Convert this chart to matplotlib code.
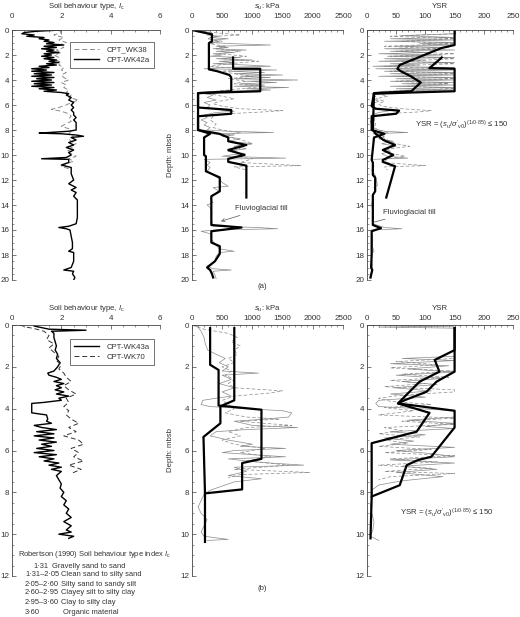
import numpy as np
import matplotlib
matplotlib.use("Agg")
import matplotlib.pyplot as plt
from matplotlib.ticker import MultipleLocator

plt.rcParams['font.family'] = ['Liberation Sans', 'DejaVu Sans']
plt.rcParams['mathtext.fontset'] = 'custom'
plt.rcParams['mathtext.rm'] = 'Liberation Sans'
plt.rcParams['mathtext.it'] = 'Liberation Sans:italic'

TXT = '#333333'

# ---------------- data: (depth m, value) ----------------
# (a) Ic
ic_wk42a = [(0.0,2.0),(0.1,1.0),(0.2,0.5),(0.3,0.4),(0.4,0.9),(0.5,0.6),(0.6,1.3),(0.7,1.1),(0.8,1.5),(0.9,1.3),(1.0,1.7),(1.1,1.4),(1.2,2.1),(1.3,1.3),(1.4,1.8),(1.5,1.2),(1.6,1.7),(1.7,1.4),(1.8,1.9),(1.9,1.3),(2.0,1.6),(2.1,1.2),(2.2,1.7),(2.3,1.3),(2.4,1.8),(2.5,1.5),(2.6,1.9),(2.7,1.4),(2.8,1.8),(2.9,1.1),(3.0,1.5),(3.1,0.8),(3.2,1.4),(3.3,0.8),(3.4,1.7),(3.5,0.9),(3.6,1.6),(3.7,0.8),(3.8,1.7),(3.9,1.0),(4.0,1.6),(4.1,0.8),(4.2,1.7),(4.3,0.9),(4.4,1.6),(4.5,0.8),(4.6,1.7),(4.7,1.1),(4.8,1.8),(4.9,1.3),(5.0,2.0),(5.1,2.3),(5.2,2.2),(5.4,2.4),(5.6,2.3),(5.8,2.5),(6.0,2.4),(6.2,2.5),(6.4,2.4),(6.6,2.5),(6.8,2.5),(7.0,2.6),(7.2,2.5),(7.4,2.6),(7.6,2.6),(7.8,2.6),(8.0,2.6),(8.1,2.3),(8.2,1.5),(8.25,1.1),(8.3,2.0),(8.4,2.6),(8.5,2.9),(8.6,2.4),(8.8,2.6),(9.0,2.3),(9.2,2.5),(9.4,2.2),(9.6,2.5),(9.8,2.3),(10.0,2.4),(10.2,2.2),(10.3,1.2),(10.35,2.3),(10.6,2.3),(10.8,2.0),(11.0,2.4),(11.5,2.4),(12.0,2.5),(12.3,2.3),(12.6,2.6),(12.8,2.4),(13.0,2.6),(13.3,2.5),(13.6,2.65),(14.0,2.65),(14.5,2.65),(15.0,2.65),(15.5,2.6),(15.7,2.3),(15.8,1.9),(15.9,2.2),(16.0,2.35),(16.5,2.4),(17.0,2.45),(17.5,2.45),(17.7,2.3),(17.8,2.5),(18.0,2.5),(18.5,2.5),(19.0,2.4),(19.2,2.1),(19.3,2.5),(19.5,2.45),(19.8,2.55),(20.0,2.5)]
ic_wk38 = [(0.0,1.9),(0.2,2.0),(0.4,1.7),(0.6,2.1),(0.8,1.9),(1.0,2.2),(1.2,1.9),(1.4,2.1),(1.6,1.8),(1.8,2.0),(2.0,1.7),(2.2,1.9),(2.4,1.8),(2.6,2.0),(2.8,1.9),(3.0,2.1),(3.2,2.0),(3.4,2.2),(3.6,2.0),(3.8,2.1),(4.0,2.3),(4.2,2.0),(4.4,2.2),(4.6,2.1),(4.8,2.3),(5.0,2.2),(5.2,2.4),(5.4,2.3),(5.6,2.7),(5.8,2.4),(6.0,2.2),(6.2,1.9),(6.35,1.6),(6.5,2.0),(6.7,2.3),(6.9,2.4),(7.1,2.3),(7.3,2.4),(7.5,2.2),(7.7,2.0),(7.9,2.3),(8.1,2.4),(8.3,2.3),(8.5,2.5),(8.7,2.3),(8.9,2.4),(9.1,2.6),(9.3,2.3),(9.5,2.5),(9.7,2.2),(9.9,2.4),(10.1,2.6),(10.3,2.3),(10.5,2.5),(10.7,2.2),(10.9,2.0),(11.1,2.3)]

# (a) su kPa
su_wk42a = [(0.0,0),(0.1,150),(0.2,300),(0.3,350),(0.4,250),(0.5,450),(0.6,300),(0.7,600),(0.8,350),(0.9,450),(1.0,300),(1.1,700),(1.2,1300),(1.3,400),(1.4,600),(1.5,350),(1.6,900),(1.7,400),(1.8,700),(1.9,350),(2.0,500),(2.1,300),(2.2,800),(2.3,400),(2.4,1000),(2.5,450),(2.6,700),(2.7,350),(2.8,900),(2.9,1300),(3.0,500),(3.1,200),(3.2,1400),(3.3,600),(3.4,1200),(3.5,700),(3.6,1500),(3.7,800),(3.8,1300),(3.9,700),(4.0,1750),(4.1,900),(4.2,1400),(4.3,800),(4.4,1200),(4.5,700),(4.6,1600),(4.7,900),(4.8,1300),(4.9,600),(5.0,300),(5.1,200),(5.2,350),(5.4,250),(5.6,400),(5.8,200),(6.0,300),(6.2,250),(6.4,500),(6.5,700),(6.6,400),(6.8,200),(7.0,250),(7.2,150),(7.4,250),(7.6,200),(7.8,300),(8.0,250),(8.1,600),(8.2,1350),(8.3,300),(8.4,700),(8.5,500),(8.7,800),(8.9,600),(9.1,1000),(9.3,700),(9.5,900),(9.7,600),(9.9,800),(10.1,500),(10.25,1550),(10.35,200),(10.6,300),(10.8,250),(11.0,300),(11.3,250),(11.6,350),(11.9,450),(12.2,500),(12.5,600),(12.6,350),(12.9,450),(13.2,350),(13.5,300),(13.8,350),(14.0,250),(14.2,300),(14.6,330),(15.0,320),(15.4,330),(15.7,350),(15.8,1100),(15.9,1420),(16.0,400),(16.1,150),(16.3,300),(16.8,330),(17.2,400),(17.5,450),(17.7,700),(17.8,450),(18.1,400),(18.5,380),(18.9,250),(19.1,350),(19.2,650),(19.3,350),(19.6,380),(19.9,400)]
su_wk38 = [(0.0,0),(0.2,350),(0.4,800),(0.5,400),(0.7,250),(0.9,500),(1.1,300),(1.3,550),(1.5,400),(1.7,800),(1.9,450),(2.1,900),(2.3,500),(2.5,1100),(2.7,600),(2.9,300),(3.1,800),(3.3,500),(3.5,700),(3.7,1000),(3.9,600),(4.1,900),(4.3,700),(4.5,1200),(4.7,800),(4.9,400),(5.1,300),(5.3,500),(5.5,700),(5.7,450),(5.9,350),(6.1,500),(6.3,800),(6.45,1500),(6.55,1200),(6.7,600),(6.9,350),(7.2,300),(7.5,400),(7.8,350),(8.0,500),(8.2,800),(8.4,600),(8.7,700),(8.9,900),(9.1,1000),(9.3,700),(9.5,800),(9.7,600),(9.9,900),(10.1,700),(10.3,1000),(10.6,800),(10.85,1800),(10.95,700),(11.2,900)]
su_design1_a = [(0.0,0),(0.35,330),(0.9,330),(1.05,280),(3.15,280),(3.3,420),(3.6,620),(3.8,650),(4.9,650),(5.05,100),(6.2,100),(6.4,650),(6.7,650),(6.9,100),(8.0,100),(8.3,300),(8.6,200),(10.0,200),(10.1,230),(11.3,230),(11.8,460),(12.9,460),(13.3,320),(15.6,320),(15.8,820),(16.1,320),(17.0,320),(17.3,460),(17.9,460),(18.5,380),(19.0,250),(19.2,300),(19.5,330),(19.8,350)]
su_design2_a = [(2.2,680),(3.1,680),(3.1,1130),(4.9,1130),(5.05,100),(8.0,100),(8.3,450),(8.6,600),(8.9,600),(9.2,900),(9.6,600),(10.0,870),(10.3,600),(10.55,600),(10.85,900),(13.4,900)]

# (a) YSR
ysr_wk42a = [(0.0,5),(0.05,150),(0.3,150),(0.45,60),(0.6,150),(0.7,40),(0.8,150),(0.9,30),(1.0,150),(1.1,90),(1.2,150),(1.3,50),(1.4,140),(1.5,30),(1.6,150),(1.7,40),(1.8,110),(1.9,20),(2.0,130),(2.1,35),(2.2,150),(2.3,30),(2.4,100),(2.5,20),(2.6,150),(2.7,40),(2.8,90),(2.9,10),(3.0,150),(3.1,15),(3.2,150),(3.3,30),(3.4,150),(3.5,40),(3.6,150),(3.7,20),(3.8,150),(3.9,50),(4.0,150),(4.1,40),(4.2,150),(4.3,60),(4.4,150),(4.5,40),(4.6,150),(4.7,50),(4.8,150),(4.9,30),(5.0,15),(5.1,8),(5.3,15),(5.5,10),(5.7,20),(5.9,8),(6.1,12),(6.3,15),(6.45,40),(6.6,20),(6.8,8),(7.0,10),(7.3,6),(7.6,8),(7.9,12),(8.1,30),(8.2,70),(8.3,10),(8.5,30),(8.7,20),(8.9,45),(9.1,25),(9.3,50),(9.5,30),(9.7,40),(9.9,25),(10.1,35),(10.25,70),(10.35,8),(10.6,10),(10.9,12),(11.2,8),(11.6,14),(12.0,16),(12.4,18),(12.6,12),(12.9,14),(13.3,10),(13.7,9),(14.0,8),(14.5,10),(15.0,9),(15.5,10),(15.8,30),(15.9,60),(16.0,8),(16.3,8),(16.8,10),(17.3,9),(17.7,12),(17.9,8),(18.3,8),(18.8,9),(19.2,10),(19.4,7),(19.8,8)]
ysr_wk38 = [(0.0,150),(0.3,150),(0.5,40),(0.7,150),(0.9,60),(1.1,150),(1.3,30),(1.5,120),(1.7,50),(1.9,150),(2.1,40),(2.3,150),(2.5,60),(2.7,150),(2.9,30),(3.1,120),(3.3,40),(3.5,150),(3.7,60),(3.9,150),(4.1,50),(4.3,140),(4.5,70),(4.7,150),(4.9,40),(5.1,20),(5.3,35),(5.5,15),(5.7,30),(5.9,20),(6.1,25),(6.3,60),(6.45,110),(6.55,90),(6.7,30),(6.9,15),(7.2,12),(7.5,15),(7.8,12),(8.0,20),(8.2,35),(8.4,25),(8.7,30),(8.9,40),(9.1,50),(9.3,73),(9.5,40),(9.7,30),(9.9,45),(10.1,65),(10.3,35),(10.6,30),(10.85,100),(10.95,30),(11.2,35)]
ysr_design1_a = [(0.0,150),(1.2,150),(1.45,127),(2.8,56),(3.1,52),(3.3,58),(3.7,75),(4.2,92),(4.9,76),(5.05,12),(6.1,8),(6.3,15),(6.45,55),(6.7,50),(6.9,8),(8.0,8),(8.3,30),(8.6,12),(10.4,8),(10.6,10),(11.6,10),(11.8,14),(12.9,14),(13.2,10),(15.6,10),(15.85,24),(16.1,8),(18.0,8),(19.0,7),(19.2,9),(19.8,6)]
ysr_design2_a = [(2.2,128),(3.05,107),(3.1,150),(4.9,150),(5.0,76),(5.1,12),(8.0,10),(8.3,15),(8.8,28),(9.2,48),(9.6,27),(10.0,45),(10.4,27),(10.55,27),(10.9,48),(13.4,33)]

# (b) Ic
ic_wk43a = [(0.05,0.9),(0.15,1.3),(0.2,1.5),(0.25,3.0),(0.3,1.6),(0.4,1.7),(0.6,1.7),(0.8,1.75),(1.0,1.8),(1.2,1.75),(1.4,1.85),(1.6,1.8),(1.8,1.95),(2.0,1.85),(2.2,1.7),(2.3,1.45),(2.4,1.5),(2.5,1.8),(2.6,2.0),(2.7,1.7),(2.8,2.1),(2.9,1.8),(3.0,2.0),(3.1,1.75),(3.2,2.1),(3.3,1.8),(3.4,2.3),(3.5,1.9),(3.6,2.0),(3.7,1.3),(3.75,0.8),(4.0,0.8),(4.2,0.8),(4.3,1.4),(4.5,1.45),(4.6,1.4),(4.7,1.6),(4.8,0.9),(4.9,1.2),(5.0,1.8),(5.1,1.0),(5.2,1.7),(5.3,0.9),(5.4,1.7),(5.5,1.1),(5.6,1.8),(5.7,1.2),(5.8,1.6),(5.9,1.0),(6.0,1.7),(6.1,0.9),(6.2,1.8),(6.3,1.1),(6.4,1.7),(6.5,1.3),(6.6,1.9),(6.7,1.5),(6.8,2.0),(6.9,1.6),(7.0,2.0),(7.2,1.8),(7.4,1.9),(7.6,2.0),(7.8,1.95),(8.0,2.1),(8.2,2.0),(8.4,2.2),(8.6,2.1),(8.8,2.3),(9.0,2.2),(9.2,2.4),(9.4,2.1),(9.6,2.4),(9.8,2.2),(9.9,2.4),(10.0,1.9),(10.1,2.5),(10.2,2.3)]
ic_wk70 = [(0.0,0.3),(0.1,0.6),(0.2,1.0),(0.3,1.3),(0.5,1.5),(0.7,1.4),(0.9,1.7),(1.1,1.5),(1.3,1.7),(1.5,1.9),(1.7,1.8),(1.9,2.0),(2.1,1.9),(2.3,2.1),(2.5,2.2),(2.7,2.4),(2.9,2.1),(3.1,2.3),(3.3,2.6),(3.5,2.2),(3.7,2.3),(3.9,2.1),(4.1,2.3),(4.3,2.2),(4.5,2.4),(4.7,2.7),(4.9,2.3),(5.1,2.6),(5.3,2.1),(5.5,2.7),(5.7,2.9),(5.9,2.4),(6.1,2.7),(6.3,2.5),(6.5,2.9),(6.7,2.3),(6.9,2.8),(7.0,2.6),(7.1,2.4)]

# (b) su kPa
su_wk43a = [(0.0,0),(0.1,100),(0.3,150),(0.6,200),(0.9,220),(1.2,260),(1.4,400),(1.6,550),(1.8,450),(2.0,600),(2.2,500),(2.3,1100),(2.4,500),(2.6,650),(2.8,450),(3.0,700),(3.2,500),(3.4,650),(3.5,400),(3.6,180),(3.8,150),(3.9,300),(4.0,900),(4.1,1500),(4.2,1650),(4.4,1600),(4.5,1200),(4.6,700),(4.8,1000),(4.9,1750),(5.0,900),(5.1,400),(5.3,300),(5.5,600),(5.7,1000),(5.8,800),(5.9,1550),(6.0,700),(6.1,500),(6.2,1000),(6.3,1550),(6.4,600),(6.5,900),(6.6,1300),(6.7,1850),(6.8,700),(7.0,900),(7.2,600),(7.35,1150),(7.5,700),(7.7,500),(7.9,300),(8.1,200),(8.4,150),(8.7,100),(9.0,150),(9.3,250),(9.6,200),(9.9,150),(10.1,200),(10.25,600),(10.3,250)]
su_wk70 = [(0.0,0),(0.2,200),(0.4,600),(0.6,750),(0.8,650),(1.0,800),(1.2,700),(1.4,750),(1.6,600),(1.8,700),(2.0,500),(2.2,650),(2.4,550),(2.6,700),(2.8,600),(3.0,700),(3.15,1500),(3.25,1300),(3.4,700),(3.6,500),(3.8,600),(4.0,700),(4.2,550),(4.4,900),(4.5,1450),(4.6,800),(4.7,1200),(4.8,1650),(4.9,900),(5.1,600),(5.3,800),(5.5,500),(5.7,700),(5.9,1200),(6.1,800),(6.3,1300),(6.5,900),(6.7,1600),(6.9,700),(7.05,1950),(7.15,800),(7.3,600)]
su_design1_b = [(0.15,300),(1.9,300),(2.15,440),(3.85,440),(4.05,1150),(6.4,1150),(6.6,830),(7.86,830),(8.05,215),(10.37,215)]
su_design2_b = [(0.15,700),(3.6,700),(3.85,500),(3.9,470),(4.7,470),(5.35,190),(8.05,215)]

# (b) YSR
ysr_wk43a = [(0.0,0),(0.05,150),(0.1,20),(0.15,150),(1.5,150),(1.6,60),(1.7,150),(1.85,40),(1.95,140),(2.1,70),(2.25,150),(2.4,50),(2.55,130),(2.7,60),(2.85,120),(3.0,45),(3.15,110),(3.3,40),(3.45,100),(3.6,20),(3.75,15),(3.9,20),(4.0,90),(4.1,150),(4.4,150),(4.55,70),(4.7,150),(4.85,100),(4.95,150),(5.1,40),(5.25,100),(5.4,30),(5.55,80),(5.7,40),(5.85,150),(6.0,50),(6.15,110),(6.3,150),(6.45,40),(6.6,150),(6.75,60),(6.9,120),(7.05,50),(7.25,130),(7.45,60),(7.65,20),(7.9,8),(8.2,10),(8.6,6),(9.0,8),(9.4,12),(9.8,10),(10.1,6),(10.3,20)]
ysr_wk70 = [(0.0,0),(0.05,150),(1.6,150),(1.75,50),(1.9,120),(2.05,40),(2.2,150),(2.35,60),(2.5,140),(2.65,40),(2.8,100),(2.95,30),(3.1,150),(3.2,150),(3.35,60),(3.5,20),(3.65,40),(3.8,110),(3.95,30),(4.1,80),(4.3,20),(4.45,150),(4.6,60),(4.75,150),(4.9,30),(5.05,60),(5.2,20),(5.35,90),(5.5,30),(5.65,70),(5.8,20),(5.95,110),(6.1,30),(6.25,150),(6.4,40),(6.55,120),(6.7,20),(6.85,110),(7.0,30),(7.1,150),(7.25,40),(7.4,20)]
ysr_design1_b = [(0.15,150),(1.2,150),(1.67,116),(2.23,124),(2.71,90),(3.27,70),(3.75,53),(4.1,150),(4.9,150),(6.3,110),(6.46,87),(6.7,68),(7.66,56),(8.2,8),(10.2,6)]
ysr_design2_b = [(0.15,150),(2.23,150),(2.71,119),(3.19,102),(3.59,65),(3.75,53),(4.2,107),(5.1,85),(5.65,8),(8.2,8)]

ic_ticks = [0, 2, 4, 6]
su_ticks = [0, 500, 1000, 1500, 2000, 2500]
ysr_ticks = [0, 50, 100, 150, 200, 250]
depth_ticks_a = [0, 2, 4, 6, 8, 10, 12, 14, 16, 18, 20]
depth_ticks_b = [0, 2, 4, 6, 8, 10, 12]

robertson_ranges = ['1·31', '1·31–2·05', '2·05–2·60', '2·60–2·95', '2·95–3·60', '3·60']
robertson_types = ['Gravelly sand to sand', 'Clean sand to silty sand', 'Silty sand to sandy silt',
                   'Clayey silt to silty clay', 'Clay to silty clay', 'Organic material']

# ---------------- figure ----------------
W, H = 520, 617
fig = plt.figure(figsize=(W/100, H/100), dpi=100)

def ax_at(x0, x1, y0, y1):
    return fig.add_axes([x0/W, 1 - y1/H, (x1-x0)/W, (y1-y0)/H])

def unz(s):
    a = np.array(s, dtype=float)
    return a[:, 1], a[:, 0]

def style(ax, xlim, xticks, xminor, ymax, yticks, xlabel, tpad):
    ax.set_xlim(*xlim)
    ax.set_ylim(ymax, 0)
    ax.set_xticks(xticks)
    ax.set_yticks(yticks)
    ax.xaxis.set_minor_locator(MultipleLocator(xminor))
    ax.yaxis.set_minor_locator(MultipleLocator(0.5))
    ax.xaxis.tick_top()
    ax.xaxis.set_label_position('top')
    for s in ['right', 'bottom']:
        ax.spines[s].set_visible(False)
    for s in ['left', 'top']:
        ax.spines[s].set_linewidth(0.6)
        ax.spines[s].set_color('#444444')
    ax.tick_params(which='major', direction='in', length=3, width=0.5, colors='#444444',
                   labelsize=5.8, labelcolor=TXT)
    ax.tick_params(which='minor', direction='in', length=1.5, width=0.4, colors='#444444')
    ax.tick_params(axis='x', which='major', pad=tpad)
    ax.tick_params(axis='y', which='major', pad=2)
    ax.set_xlabel(xlabel, fontsize=5.6, color=TXT, labelpad=3)
    ax.patch.set_alpha(0)

rows = [(30, 280, 20, depth_ticks_a, 7.5), (325, 576, 12, depth_ticks_b, 2.5)]
cols = [(12, 160), (192, 343), (367, 513)]

axes = []
for (y0, y1, dmax, dt, tpad) in rows:
    a1 = ax_at(cols[0][0], cols[0][1], y0, y1)
    a2 = ax_at(cols[1][0], cols[1][1], y0, y1)
    a3 = ax_at(cols[2][0], cols[2][1], y0, y1)
    style(a1, (0, 6), ic_ticks, 0.5, dmax, dt, 'Soil behaviour type, $I_\\mathrm{c}$', tpad)
    style(a2, (0, 2500), su_ticks, 100, dmax, dt, '$s_\\mathrm{u}$: kPa', tpad)
    style(a3, (0, 250), ysr_ticks, 10, dmax, dt, 'YSR', tpad)
    axes.append((a1, a2, a3))

(a1, a2, a3), (b1, b2, b3) = axes

GRAY = '#8a8a8a'
DASH = (0, (5, 3))

# --- (a) Ic
a1.plot(*unz(ic_wk38), color='#8a8a8a', lw=0.7, ls=DASH, label='CPT_WK38')
a1.plot(*unz(ic_wk42a), color='black', lw=1.0, label='CPT-WK42a')
leg = a1.legend(loc='upper right', bbox_to_anchor=(0.985, 0.966), fontsize=5.6, frameon=True,
                fancybox=False, edgecolor='#333333', handlelength=3.2, borderpad=0.5,
                labelspacing=0.35, handletextpad=1.0)
leg.get_frame().set_linewidth(0.6)
for t in leg.get_texts():
    t.set_color(TXT)

# --- (a) su
a2.plot(*unz(su_wk38), color=GRAY, lw=0.5, ls=DASH)
a2.plot(*unz(su_wk42a), color=GRAY, lw=0.5)
a2.plot(*unz(su_design1_a), color='black', lw=1.6)
a2.plot(*unz(su_design2_a), color='black', lw=1.6)
a2.annotate('Fluvioglacial till', xy=(480, 15.3), xytext=(720, 14.3), fontsize=5.6, color=TXT,
            va='center', ha='left',
            arrowprops=dict(arrowstyle='->', color='#555555', lw=0.5, shrinkA=1, shrinkB=0))

# --- (a) YSR
a3.plot(*unz(ysr_wk38), color=GRAY, lw=0.5, ls=DASH)
a3.plot(*unz(ysr_wk42a), color=GRAY, lw=0.5)
a3.plot(*unz(ysr_design1_a), color='black', lw=1.6)
a3.plot(*unz(ysr_design2_a), color='black', lw=1.6)
a3.annotate('Fluvioglacial till', xy=(10, 15.4), xytext=(27, 14.6), fontsize=5.6, color=TXT,
            va='center', ha='left',
            arrowprops=dict(arrowstyle='-', color='#555555', lw=0.5, shrinkA=1, shrinkB=0))
a3.text(83, 7.6, "YSR = ($s_\\mathrm{u}$/$\\sigma'_\\mathrm{v0}$)$^{(1/0{\\cdot}85)}$ ≤ 150",
        fontsize=5.6, color=TXT, va='center', ha='left')

# --- (b) Ic
b1.plot(*unz(ic_wk43a), color='black', lw=1.0, label='CPT-WK43a')
b1.plot(*unz(ic_wk70), color='#333333', lw=0.7, ls=DASH, label='CPT-WK70')
leg = b1.legend(loc='upper right', bbox_to_anchor=(0.985, 0.958), fontsize=5.6, frameon=True,
                fancybox=False, edgecolor='#333333', handlelength=3.2, borderpad=0.5,
                labelspacing=0.35, handletextpad=1.0)
leg.get_frame().set_linewidth(0.6)
for t in leg.get_texts():
    t.set_color(TXT)

# --- (b) su
b2.plot(*unz(su_wk70), color=GRAY, lw=0.5, ls=DASH)
b2.plot(*unz(su_wk43a), color=GRAY, lw=0.5)
b2.plot(*unz(su_design1_b), color='black', lw=1.6)
b2.plot(*unz(su_design2_b), color='black', lw=1.6)

# --- (b) YSR
b3.plot(*unz(ysr_wk70), color=GRAY, lw=0.5, ls=DASH)
b3.plot(*unz(ysr_wk43a), color=GRAY, lw=0.5)
b3.plot(*unz(ysr_design1_b), color='black', lw=1.6)
b3.plot(*unz(ysr_design2_b), color='black', lw=1.6)
b3.text(56, 9.0, "YSR = ($s_\\mathrm{u}$/$\\sigma'_\\mathrm{v0}$)$^{(1/0{\\cdot}85)}$ ≤ 150",
        fontsize=5.6, color=TXT, va='center', ha='left')

# depth labels
fig.text(170/W, 1 - 155/H, 'Depth: mbsb', rotation=90, fontsize=5.6, color=TXT, ha='center', va='center')
fig.text(170/W, 1 - 450/H, 'Depth: mbsb', rotation=90, fontsize=5.6, color=TXT, ha='center', va='center')
fig.text(262/W, 1 - 287/H, '(a)', fontsize=5.6, color=TXT, ha='center', va='center')
fig.text(262/W, 1 - 588/H, '(b)', fontsize=5.6, color=TXT, ha='center', va='center')

# Robertson table
RFS = 5.4
fig.text(94/W, 1 - 555/H, 'Robertson (1990) Soil behaviour type index $I_\\mathrm{c}$', fontsize=RFS,
         color=TXT, ha='center', va='center')
ys = [566, 575, 584, 593, 602, 612]
for i, (r, t) in enumerate(zip(robertson_ranges, robertson_types)):
    y = 1 - ys[i]/H
    if i == 0:
        fig.text(49/W, y, r, fontsize=RFS, color=TXT, ha='right', va='center')
        fig.text(52/W, y, t, fontsize=RFS, color=TXT, ha='left', va='center')
    else:
        fig.text(25/W, y, r, fontsize=RFS, color=TXT, ha='left', va='center')
        fig.text((63 if i == 5 else 61)/W, y, t, fontsize=RFS, color=TXT, ha='left', va='center')

fig.savefig('out.png', dpi=100)
